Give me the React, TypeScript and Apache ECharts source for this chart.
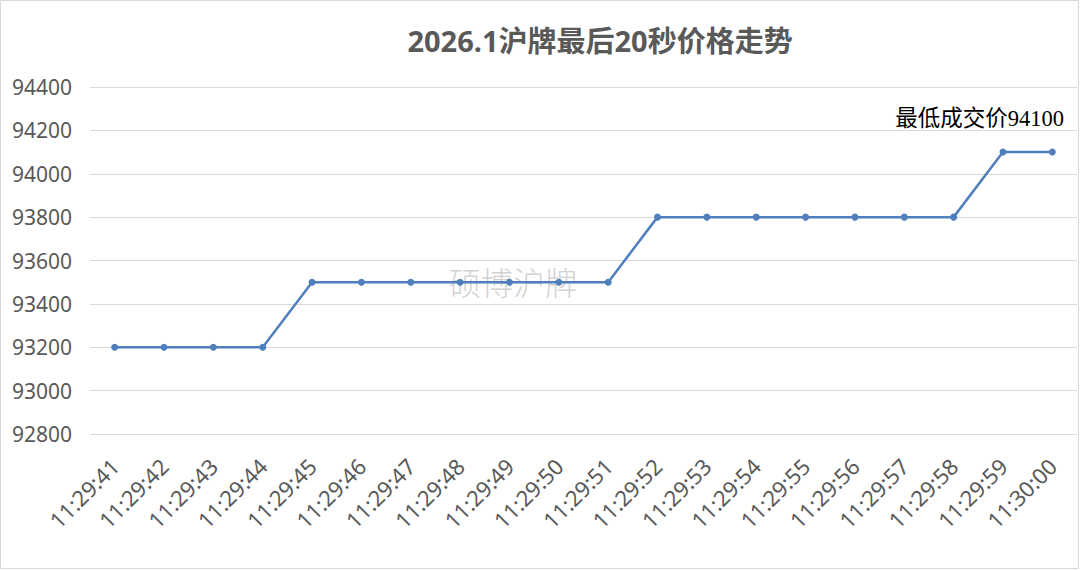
import React, { useEffect, useRef } from "react";
import * as echarts from "echarts";

const categories = [
  "11:29:41", "11:29:42", "11:29:43", "11:29:44", "11:29:45",
  "11:29:46", "11:29:47", "11:29:48", "11:29:49", "11:29:50",
  "11:29:51", "11:29:52", "11:29:53", "11:29:54", "11:29:55",
  "11:29:56", "11:29:57", "11:29:58", "11:29:59", "11:30:00",
];
const prices = [
  93200, 93200, 93200, 93200, 93500,
  93500, 93500, 93500, 93500, 93500,
  93500, 93800, 93800, 93800, 93800,
  93800, 93800, 93800, 94100, 94100,
];
const titleText = "2026.1沪牌最后20秒价格走势";
const noteText = "最低成交价94100";
const watermarkText = "硕博沪牌";

export default function App() {
  const ref = useRef<HTMLDivElement>(null);
  useEffect(() => {
    if (!ref.current) return;
    const chart = echarts.init(ref.current, null, { renderer: "svg" });
    chart.setOption({
      animation: false,
      backgroundColor: "#ffffff",
      title: {
        text: titleText,
        left: 595,
        top: 21,
        textAlign: "center",
        textStyle: {
          fontFamily: "'Noto Sans', 'Noto Sans CJK SC', sans-serif",
          fontSize: 29,
          fontWeight: "bold",
          color: "#595959",
        },
      },
      grid: { left: 90, right: 3, top: 87, bottom: 136 },
      xAxis: {
        type: "category",
        data: categories,
        boundaryGap: true,
        axisLine: { show: false },
        axisTick: { show: false },
        axisLabel: {
          rotate: 45,
          interval: 0,
          margin: 28,
          fontSize: 22,
          color: "#595959",
          fontFamily: "'Noto Sans', sans-serif",
        },
      },
      yAxis: {
        type: "value",
        min: 92800,
        max: 94400,
        interval: 200,
        axisLine: { show: false },
        axisTick: { show: false },
        splitLine: { lineStyle: { color: "#d9d9d9", width: 1 } },
        axisLabel: {
          margin: 18,
          fontSize: 21,
          color: "#595959",
          fontFamily: "'Noto Sans', sans-serif",
          formatter: (v: number) => String(v),
        },
      },
      series: [
        {
          type: "line",
          data: prices,
          symbol: "circle",
          symbolSize: 7,
          lineStyle: { color: "#4f7fbc", width: 2.5 },
          itemStyle: { color: "#4f7fbc" },
          z: 3,
        },
      ],
      graphic: [
        {
          type: "rect",
          z: -10,
          shape: { x: 0.5, y: 0.5, width: 1078, height: 568 },
          style: { fill: "none", stroke: "#d9d9d9", lineWidth: 1 },
          silent: true,
        },
        {
          type: "text",
          z: 0,
          x: 513,
          y: 281,
          style: {
            text: watermarkText,
            fontSize: 32,
            fontFamily: "'Noto Sans CJK SC', serif",
            fontWeight: 300,
            fill: "rgba(150,150,150,0.45)",
            textAlign: "center",
            textVerticalAlign: "middle",
          },
          silent: true,
        },
        {
          type: "text",
          z: 10,
          x: 1064,
          y: 118,
          style: {
            text: noteText,
            fontSize: 22.5,
            fontFamily: "'Liberation Serif', 'Noto Sans CJK SC', serif",
            fill: "#000000",
            textAlign: "right",
            textVerticalAlign: "middle",
          },
        },
      ],
    });
    return () => chart.dispose();
  }, []);
  return (
    <div
      ref={ref}
      style={{ position: "fixed", left: 0, top: 0, width: 1080, height: 570 }}
    />
  );
}
